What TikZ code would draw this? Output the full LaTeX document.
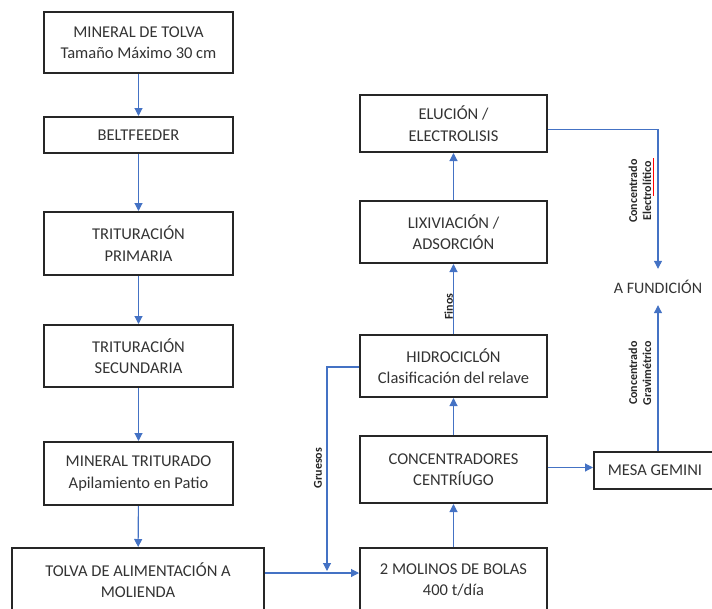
\documentclass[tikz,border=0pt]{standalone}
\usepackage{fontspec}
\setmainfont{Carlito}
\usetikzlibrary{arrows.meta,calc}
\definecolor{flow}{HTML}{4472C4}
\definecolor{edge}{HTML}{262626}
\begin{document}
\begin{tikzpicture}[x=1pt,y=-1pt,
  box/.style={draw=edge,line width=2pt,rectangle,align=center,inner sep=0pt,
    font=\fontsize{16.5}{21.5}\selectfont,text=black!80},
  flowline/.style={draw=flow,line width=1.1pt,-{Triangle[length=8pt,width=8pt]}},
  lbl/.style={rotate=90,font=\fontsize{12}{14}\selectfont\bfseries,text=black!85,inner sep=0pt,align=center}]
\useasboundingbox (0,0) rectangle (712,608);
\clip (0,0) rectangle (712,608);
% left column
\node[box,minimum width=189pt,minimum height=61pt] (tolva) at (138.5,42.5) {MINERAL DE TOLVA\\Tamaño Máximo 30 cm};
\node[box,minimum width=189pt,minimum height=36pt] (belt) at (138.5,135) {BELTFEEDER};
\node[box,minimum width=189pt,minimum height=63pt] (prim) at (138.5,243.5) {TRITURACIÓN\\PRIMARIA};
\node[box,minimum width=189pt,minimum height=62pt] (sec) at (138.5,356) {TRITURACIÓN\\SECUNDARIA};
\node[box,minimum width=189pt,minimum height=63pt] (trit) at (138.5,473.5) {MINERAL TRITURADO\\Apilamiento en Patio};
\node[box,minimum width=252pt,minimum height=64pt] (alim) at (138,580) {TOLVA DE ALIMENTACIÓN A\\MOLIENDA};
% right column
\node[box,minimum width=187pt,minimum height=57pt] (elu) at (453.5,123.5) {ELUCIÓN /\\ELECTROLISIS};
\node[box,minimum width=187pt,minimum height=62pt] (lix) at (453.5,232) {LIXIVIACIÓN /\\ADSORCIÓN};
\node[box,minimum width=187pt,minimum height=62pt] (hidro) at (453.5,366) {HIDROCICLÓN\\Clasificación del relave};
\node[box,minimum width=187pt,minimum height=67pt] (conc) at (453.5,469.5) {CONCENTRADORES\\CENTRÍUGO};
\node[box,minimum width=187pt,minimum height=64pt] (mol) at (453.5,580) {2 MOLINOS DE BOLAS\\400 t/día};
\node[box,minimum width=130pt,minimum height=37pt,anchor=west] (mesa) at (593,470.5) {\hspace*{-8pt}MESA GEMINI};
\node[font=\fontsize{16}{20}\selectfont,text=black!80,minimum height=36pt,inner sep=0pt] (fund) at (658,287) {A FUNDICIÓN};
% connectors left
\draw[flowline] (tolva) -- (belt);
\draw[flowline] (belt) -- (prim);
\draw[flowline] (prim) -- (sec);
\draw[flowline] (sec) -- (trit);
\draw[flowline] (trit) -- (alim);
\draw[flowline] ([yshift=7pt]alim.east) -- ([yshift=7pt]mol.west);
% connectors right
\draw[flowline] (mol) -- (conc);
\draw[flowline] (conc) -- (hidro);
\draw[flowline] (hidro) -- node[lbl,left=4pt,anchor=south,pos=0.45]{Finos} (lix);
\draw[flowline] (lix) -- (elu);
\coordinate (g) at (327,571);
\draw[flowline] ([yshift=-1pt]hidro.west) -| (g);
\node[lbl] (grues) at (318,468) {Gruesos};
\draw[flowline] ([yshift=-6pt]elu.east) -| (fund.north);
\draw[flowline] ([yshift=3pt]conc.east |- mesa.west) -- ([yshift=3pt]mesa.west);
\draw[flowline] (fund.south |- mesa.north) -- (fund.south);
\node[lbl] (ce1) at (640,191) {Concentrado\\Electrolítico};
\draw[red,line width=1pt] (653.5,158) -- (653.5,196);
\node[lbl] (cg1) at (640,373) {Concentrado\\Gravimétrico};
\end{tikzpicture}
\end{document}
